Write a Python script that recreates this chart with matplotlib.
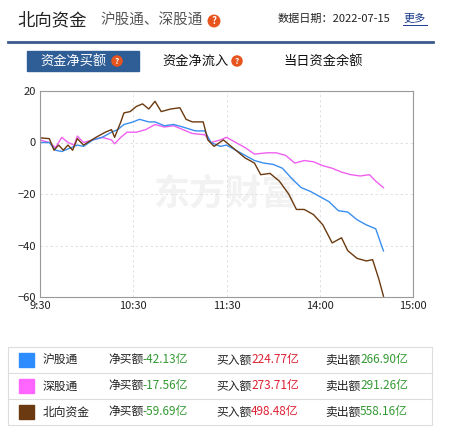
import matplotlib.pyplot as plt
import matplotlib.patches as mpatches

plt.rcParams["font.family"] = ["Noto Sans CJK SC", "DejaVu Sans"]

# minutes since 9:30 on a compressed trading axis (11:30 == 13:00 at 120)
sh_t = [0, 6, 10, 14, 20, 24, 28, 34, 40, 46, 50, 54, 60, 64, 70, 74, 80, 86, 92, 100, 106, 110,
        116, 120, 126, 132, 138, 144, 150, 156, 162, 168, 174, 180, 186, 192, 198, 204, 210, 216, 221]
sh_v = [0, 0, -3, -3.5, -2, -1, -1.5, 1, 2, 4, 5, 7, 8, 9, 8, 8, 6.5, 7, 6, 4.5, 4.5, 0,
        -1.5, -1, -3, -5, -7, -8, -8.5, -10, -14, -17.5, -19, -21, -23, -26.5, -27, -30, -32, -33.5, -42.13]
sz_t = [0, 6, 10, 14, 18, 22, 24, 28, 34, 40, 46, 48, 52, 56, 62, 68, 74, 80, 86, 92, 98, 106, 110,
        116, 120, 126, 132, 138, 146, 152, 158, 164, 170, 176, 182, 188, 194, 200, 206, 212, 216, 221]
sz_v = [1, 0, -2, 2, 0, -1, 2.5, 0, 1, 2, 1, -0.5, 2, 4, 4, 5, 7, 6, 6.5, 5, 3.5, 3, 0,
        1, 2, 0, -2, -4.5, -4, -4, -5, -8, -7, -7.5, -9, -10, -11.5, -12.5, -13, -12.5, -15, -17.56]
nb_t = [0, 6, 9, 12, 15, 18, 21, 24, 28, 32, 36, 42, 46, 48, 50, 52, 54, 58, 62, 66, 70, 74, 78, 84,
        90, 94, 98, 105, 108, 112, 118, 120, 126, 132, 138, 142, 148, 154, 160, 165, 170, 176, 182,
        188, 194, 198, 204, 210, 214, 218, 221]
nb_v = [1.8, 1.5, -3, -1, -3, -1, -3, 1.5, -1, 0.5, 2, 4, 5, 2, 5, 8, 11.5, 12, 14, 15, 13, 16, 12, 13,
        13.5, 9, 8, 8, 1, -1.5, 1, 0, -3, -6, -8, -12.5, -12, -15, -20, -26, -26, -28, -32,
        -39, -37, -42, -45, -46, -45.5, -53, -59.69]

x_ticks = [0, 60, 120, 180, 240]
x_labels = ["9:30", "10:30", "11:30", "14:00", "15:00"]
y_ticks = [20, 0, -20, -40, -60]

names = ["沪股通", "深股通", "北向资金"]
net = ["-42.13亿", "-17.56亿", "-59.69亿"]
buy = ["224.77亿", "273.71亿", "498.48亿"]
sell = ["266.90亿", "291.26亿", "558.16亿"]
colors = ["#3a8ef0", "#f060f0", "#6b3a10"]
legend_colors = ["#2d8cff", "#ff66ff", "#6b3a10"]

W, H = 455, 430
fig = plt.figure(figsize=(W / 100, H / 100), dpi=100)


def fx(px):
    return px / W


def fy(py):
    return 1 - py / H


def qmark(px, py, size):
    fig.text(fx(px), fy(py), "?", fontsize=size, va="center", ha="center", color="white", weight="bold",
             bbox=dict(boxstyle="circle,pad=0.15", fc="#e8541e", ec="none"))


# header
fig.text(fx(17), fy(20), "北向资金", fontsize=12.5, va="center", color="#222222")
fig.text(fx(100), fy(20), "沪股通、深股通", fontsize=10.5, va="center", color="#555555")
qmark(214, 21, 7)
fig.text(fx(278), fy(19), "数据日期：2022-07-15", fontsize=8, va="center", color="#222222")
fig.text(fx(403), fy(19), "更多", fontsize=8, va="center", color="#1a3c8c")
fig.add_artist(plt.Line2D([fx(403), fx(427)], [fy(25), fy(25)], color="#1a3c8c", lw=0.7))
fig.add_artist(plt.Line2D([fx(8), fx(433)], [fy(42), fy(42)], color="#3a5a8c", lw=2))

# tabs
fig.add_artist(mpatches.Rectangle((fx(27), fy(71)), fx(112), 20 / H, color="#2f5e96"))
fig.text(fx(40), fy(61), "资金净买额", fontsize=9.5, va="center", color="white")
qmark(117, 61, 6)
fig.text(fx(162), fy(61), "资金净流入", fontsize=9.5, va="center", color="#111111")
qmark(237, 61, 6)
fig.text(fx(283), fy(61), "当日资金余额", fontsize=9.5, va="center", color="#111111")

# chart
ax = fig.add_axes([fx(40), fy(297), 373 / W, 206 / H])
ax.plot(sz_t, sz_v, color=colors[1], lw=1)
ax.plot(sh_t, sh_v, color=colors[0], lw=1)
ax.plot(nb_t, nb_v, color=colors[2], lw=1)
ax.set_xlim(0, 240)
ax.set_ylim(-60, 20)
ax.set_xticks(x_ticks)
ax.set_xticklabels(x_labels)
ax.set_yticks(y_ticks)
ax.tick_params(length=0, labelsize=8, colors="#222222", pad=3)
ax.grid(True, color="#dddddd", ls=(0, (3, 3)), lw=0.6)
for s in ax.spines.values():
    s.set_color("#999999")
    s.set_linewidth(0.8)
ax.text(0.5, 0.5, "东方财富", transform=ax.transAxes, fontsize=26, weight="bold",
        color="#f2f2f2", ha="center", va="center", zorder=0)

# legend table
fig.add_artist(mpatches.Rectangle((fx(8), fy(425)), fx(424), 78 / H, fill=False, ec="#dddddd", lw=0.8))
for py in [373, 399]:
    fig.add_artist(plt.Line2D([fx(8), fx(432)], [fy(py), fy(py)], color="#dddddd", lw=0.8))
row_y = [360, 386, 412]
for i in range(3):
    y = fy(row_y[i])
    fig.add_artist(mpatches.Rectangle((fx(19), y - 7 / H), fx(15), 14 / H, color=legend_colors[i]))
    fig.text(fx(43), y, names[i], fontsize=8.5, va="center", color="#222222")
    fig.text(fx(108), y, "净买额", fontsize=8.5, va="center", color="#222222")
    fig.text(fx(142), y, net[i], fontsize=8.5, va="center", color="#339933")
    fig.text(fx(216), y, "买入额", fontsize=8.5, va="center", color="#222222")
    fig.text(fx(251), y, buy[i], fontsize=8.5, va="center", color="#dd2233")
    fig.text(fx(325), y, "卖出额", fontsize=8.5, va="center", color="#222222")
    fig.text(fx(360), y, sell[i], fontsize=8.5, va="center", color="#339933")

fig.savefig("out.png", dpi=100)
